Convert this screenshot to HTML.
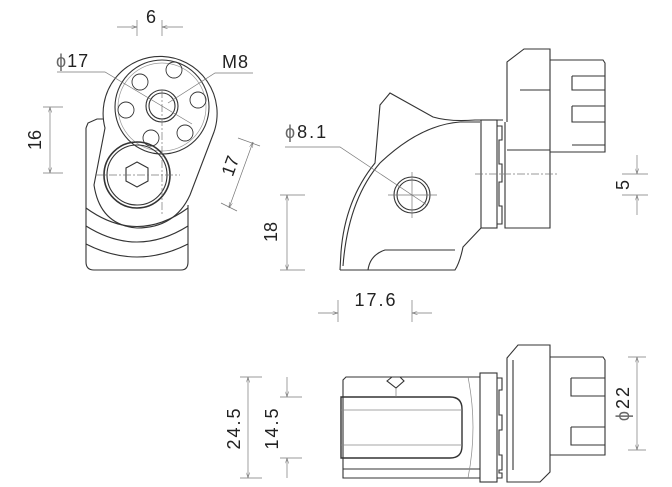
<!DOCTYPE html>
<html><head><meta charset="utf-8"><style>
html,body{margin:0;padding:0;background:#fff}
svg{display:block}
text{font-family:"Liberation Sans",sans-serif;fill:#222}
</style></head><body>
<svg width="672" height="487" viewBox="0 0 672 487" xmlns="http://www.w3.org/2000/svg">
<defs>
<marker id="a" viewBox="0 0 10 6" refX="10" refY="3" markerWidth="8" markerHeight="5" orient="auto-start-reverse"><path d="M0,0 L10,3 L0,6" fill="none" stroke="#777" stroke-width="1"/></marker>
</defs>
<g fill="none" stroke="#333" stroke-width="1.1">
<!-- FRONT VIEW -->
<path d="M86,128 L88,123 L97,119 L103,119"/>
<path d="M86,128 L86,262 Q86,270 94,270 L181,270 Q188,270 188,262 L188,205"/>
<path d="M105,128 A57,57 0 1 1 214,132 L190,195 Q175,228 137,228 Q100,225 94,185 Z"/>
<path d="M86,208 Q137,245 188,208"/>
<path d="M86,226 Q137,258 188,226"/>
<path d="M86,244 Q137,270 188,244"/>
<circle cx="162" cy="107" r="47"/>
<circle cx="162" cy="107" r="44" stroke="#999" stroke-width="0.7"/>
<circle cx="162" cy="106" r="16"/>
<circle cx="162" cy="106" r="13"/>
<circle cx="137" cy="175" r="33" stroke-width="1.6"/>
<circle cx="137" cy="175" r="30"/>
<polygon points="137,162 148,168 148,181 137,187 126,181 126,168"/>
<g stroke-width="0.9">
<circle cx="140" cy="82" r="8"/><circle cx="174" cy="70" r="8"/><circle cx="198" cy="100" r="8"/>
<circle cx="185" cy="133" r="8"/><circle cx="151" cy="138" r="8"/><circle cx="126" cy="110" r="8"/>
</g>
</g>
<g fill="none" stroke="#777" stroke-width="0.7">
<line x1="117" y1="27" x2="137" y2="27" marker-end="url(#a)"/><line x1="183" y1="27" x2="162" y2="27" marker-end="url(#a)"/>
<line x1="137" y1="20" x2="137" y2="36"/><line x1="162" y1="20" x2="162" y2="36"/>
<polyline points="57,72 105,72 192,124"/>
<polyline points="253,73 215,73 168,103"/>
<line x1="50" y1="107" x2="50" y2="173" marker-start="url(#a)" marker-end="url(#a)"/><line x1="43" y1="107" x2="63" y2="107"/><line x1="43" y1="173" x2="63" y2="173"/>
<line x1="253" y1="142" x2="229" y2="208" marker-start="url(#a)" marker-end="url(#a)"/><line x1="238" y1="138" x2="260" y2="146"/><line x1="221" y1="203" x2="237" y2="211"/>
<line x1="162" y1="90" x2="162" y2="215" stroke-dasharray="8,2,2,2"/>
<line x1="95" y1="175" x2="180" y2="175" stroke-dasharray="8,2,2,2"/>
</g>
<text x="151" y="23" font-size="18" text-anchor="middle">6</text>
<text x="56" y="67" font-size="18" letter-spacing="1"><tspan fill="#666">ϕ</tspan>17</text>
<text x="222" y="68" font-size="18" letter-spacing="1">M8</text>
<text transform="translate(41,140) rotate(-90)" font-size="18" text-anchor="middle">16</text>
<text transform="translate(236,168) rotate(-70)" font-size="18" text-anchor="middle">17</text>

<!-- SIDE VIEW -->
<g fill="none" stroke="#333" stroke-width="1.1">
<path d="M340,270 L341,252 Q345,200 375,163 L380,105 L390,93 L433,117 Q450,122 475,120 L503,120"/>
<path d="M343,266 Q348,200 380,163 Q420,125 460,122 L480,122"/>
<path d="M340,270 L455,270 Q460,262 463,247 L481,228"/>
<path d="M368,270 Q370,255 385,250 L455,250"/>
<rect x="481" y="120" width="16" height="108"/>
<path d="M497,126 h5 v14 h-3 v24 h3 v18 h-3 v24 h3 v18 h-5"/>
<path d="M505,122 L505,228 L550,228 L550,49 L524,49 L507,62 L507,122"/>
<path d="M507,150 L550,150 M520,90 L550,90"/>
<path d="M550,60 L603,60 L605,63 L605,152 L550,152"/>
<path d="M572,76 L605,76 M572,76 L572,90 L605,90 M572,106 L605,106 M572,106 L572,122 L605,122 M572,145 L605,145"/>
<circle cx="412" cy="195" r="18"/>
<circle cx="412" cy="195" r="15"/>
</g>
<g fill="none" stroke="#777" stroke-width="0.7">
<line x1="388" y1="195" x2="437" y2="195"/><line x1="412" y1="172" x2="412" y2="218"/>
<line x1="475" y1="174" x2="557" y2="174" stroke-dasharray="8,2,2,2"/>
<polyline points="285,147 340,147 427,205"/>
<line x1="287" y1="195" x2="287" y2="270" marker-start="url(#a)" marker-end="url(#a)"/><line x1="280" y1="195" x2="305" y2="195"/><line x1="280" y1="270" x2="305" y2="270"/>
<line x1="318" y1="313" x2="338" y2="313" marker-end="url(#a)"/><line x1="432" y1="313" x2="412" y2="313" marker-end="url(#a)"/><line x1="338" y1="300" x2="338" y2="322"/><line x1="412" y1="300" x2="412" y2="322"/>
<line x1="637" y1="155" x2="637" y2="174" marker-end="url(#a)"/><line x1="637" y1="215" x2="637" y2="195" marker-end="url(#a)"/><line x1="622" y1="174" x2="648" y2="174"/><line x1="622" y1="195" x2="648" y2="195"/>
</g>
<text x="285" y="138" font-size="18" letter-spacing="2"><tspan fill="#666">ϕ</tspan>8.1</text>
<text x="376" y="306" font-size="18" text-anchor="middle" letter-spacing="2">17.6</text>
<text transform="translate(277,232) rotate(-90)" font-size="18" text-anchor="middle">18</text>
<text transform="translate(629,185) rotate(-90)" font-size="18" text-anchor="middle">5</text>

<!-- BOTTOM VIEW -->
<g fill="none" stroke="#333" stroke-width="1.1">
<path d="M480,377 L346,377 L343,380 L343,478 L480,478"/>
<path d="M343,469 L480,469"/>
<path d="M341,397 L450,397 Q462,397 462,409 L462,446 Q462,458 450,458 L341,458 L341,400 Z" stroke-width="1.4"/>
<path d="M341,410 L462,410 M341,445 L462,445" stroke="#888" stroke-width="0.7"/>
<path d="M387,381 L392,377 L400,377 L404,381 L396,388 Z"/>
<path d="M468,377 Q478,427 468,478" stroke="#888" stroke-width="0.7"/>
<rect x="480" y="373" width="17" height="109"/>
<path d="M497,378 h5 v12 h-3 v25 h3 v15 h-3 v25 h3 v15 h-3 v3 h3 v5 h-5"/>
<path d="M507,358 L518,345 L550,345 L550,472 L540,482 L507,482 Z"/>
<path d="M513,360 L513,470"/>
<path d="M550,357 L603,357 L605,360 L605,455 L550,455"/>
<path d="M571,378 L605,378 M571,378 L571,396 L605,396 M571,427 L605,427 M571,427 L571,445 L605,445"/>
</g>
<g fill="none" stroke="#777" stroke-width="0.7">
<line x1="396" y1="388" x2="396" y2="397"/>
<line x1="248" y1="377" x2="248" y2="478" marker-start="url(#a)" marker-end="url(#a)"/><line x1="240" y1="377" x2="262" y2="377"/><line x1="240" y1="478" x2="262" y2="478"/>
<line x1="287" y1="377" x2="287" y2="397" marker-end="url(#a)"/><line x1="287" y1="478" x2="287" y2="458" marker-end="url(#a)"/><line x1="280" y1="397" x2="302" y2="397"/><line x1="280" y1="458" x2="302" y2="458"/>
<line x1="637" y1="357" x2="637" y2="450" marker-start="url(#a)" marker-end="url(#a)"/><line x1="628" y1="357" x2="646" y2="357"/><line x1="628" y1="450" x2="646" y2="450"/>
</g>
<text transform="translate(240,428) rotate(-90)" font-size="18" text-anchor="middle" letter-spacing="2">24.5</text>
<text transform="translate(278,428) rotate(-90)" font-size="18" text-anchor="middle" letter-spacing="2">14.5</text>
<text transform="translate(629,403) rotate(-90)" font-size="18" text-anchor="middle" letter-spacing="2"><tspan fill="#666">ϕ</tspan>22</text>
</svg>
</body></html>
